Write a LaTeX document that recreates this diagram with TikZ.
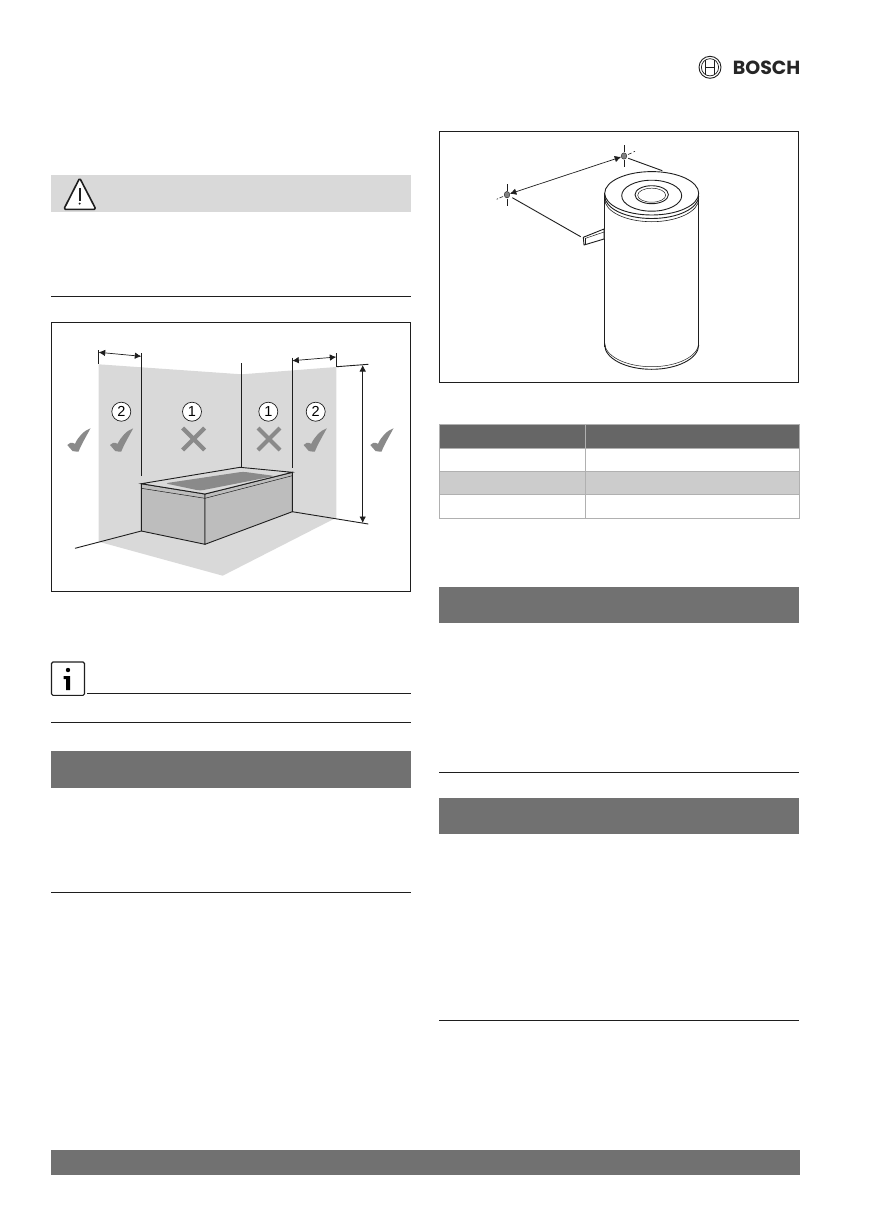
\documentclass[tikz,border=0pt]{standalone}
\usepackage{fontspec}
\setmainfont{Liberation Sans}
\newfontfamily\logofont{Poppins}
\usetikzlibrary{arrows.meta,shapes.geometric}
\definecolor{bandgray}{HTML}{717171}
\definecolor{headgray}{HTML}{666666}
\definecolor{rowgray}{HTML}{CCCCCC}
\definecolor{edgegray}{HTML}{B0B0B0}
\definecolor{wallgray}{HTML}{D9D9D9}
\definecolor{bathgray}{HTML}{BDBDBD}
\definecolor{markgray}{HTML}{8A8A8A}
\definecolor{inkgray}{HTML}{1E1E1E}
\tikzset{
    frame/.style={draw=inkgray, line width=1pt},
    rule/.style={draw=inkgray, line width=1pt},
    band/.style={fill=bandgray, draw=none},
    thinline/.style={draw=inkgray, line width=.9pt},
    dimline/.style={draw=inkgray, line width=.7pt, {Latex[length=6.5pt,width=6.5pt]}-{Latex[length=6.5pt,width=6.5pt]}},
    cellbox/.style={draw=edgegray, line width=1pt},
    numcirc/.style={circle, draw=inkgray, fill=white, line width=.7pt, inner sep=0pt,
        minimum size=19pt, font=\fontsize{14.5}{14.5}\selectfont},
    fixpoint/.style={ellipse, fill=gray, draw=inkgray, line width=.4pt, inner sep=0pt},
    centerline/.style={draw=inkgray, line width=.6pt},
    tickmark/.pic={
        \fill [markgray] (-11.7,5) .. controls (-10,2.5) and (-7.5,2) .. (-4,3.8)
            .. controls (-1,-3) and (5,-9.5) .. (11.5,-11.7)
            .. controls (8,-5) and (2.5,4) .. (-0.5,11.7)
            .. controls (-3,11.5) and (-5,11.5) .. (-6.5,11) -- cycle;
    },
    crossmark/.pic={
        \draw [markgray, line width=4.2pt] (-11,-11) -- (11,11) (11,-11) -- (-11,11);
    }
}
\begin{document}
\begin{tikzpicture}[x=1pt, y=-1pt]
  \useasboundingbox (0,0) rectangle (873,1224);

  % logo
  \node (logo) [inner sep=0pt, anchor=east, font=\fontsize{19}{19}\selectfont\logofont\bfseries, text=black!85] at (800.5,67.3) {BOSCH};
  \draw [inkgray, line width=.9pt] (710,67.3) circle (11);
  \draw [inkgray, line width=.7pt] (710,67.3) circle (8.6);
  \draw [inkgray, line width=.9pt] (705.5,59.5) -- (705.5,75) (714.5,59.5) -- (714.5,75) (705.5,67.3) -- (714.5,67.3);

  % left column
  \fill [wallgray] (51,175) rectangle (410.7,211.7);
  \draw [inkgray, line width=1.6pt, fill=white, line join=round, rounded corners=1.5pt]
    (79.7,178) -- (95.9,209.3) -- (63.8,209.3) -- cycle;
  \draw [inkgray, line width=1.6pt] (79.7,188) -- (79.7,200.5);
  \fill [inkgray] (79.7,203.6) circle (1.1);
  \draw [rule] (51,296) -- (410.7,296);

  \draw [frame] (51.3,322.3) rectangle (410.7,591.3);
  \fill [wallgray] (98.7,364.3) -- (241.7,374.3) -- (336.3,367) -- (336.3,517.7)
    -- (222.7,575.7) -- (98.7,541.7) -- cycle;
  \coordinate (wl) at (98.7,352.3);
  \coordinate (wa) at (141.3,356.3);
  \coordinate (wb) at (292.3,360.7);
  \coordinate (wr) at (336.3,357);
  \coordinate (ht) at (362.7,365);
  \coordinate (hb) at (362.7,523);

  \draw [thinline] (141.3,353.3) -- (141.3,476);
  \draw [thinline] (241.7,363.3) -- (241.7,468);
  \draw [thinline] (292.3,357.7) -- (292.3,468);
  \draw [thinline] (98.7,350) -- (98.7,363.5);
  \draw [thinline] (336.3,353.3) -- (336.3,366.7);
  \draw [thinline] (75,548.3) -- (141.3,531);
  \draw [thinline] (292.3,511.7) -- (368.3,524);
  \draw [thinline] (336.7,366.7) -- (368.3,364.3);
  \draw [dimline] (wl) -- (wa);
  \draw [dimline] (wb) -- (wr);
  \draw [dimline] (ht) -- (hb);

  \draw [thinline, fill=bathgray] (141.3,483.7) -- (205,494) -- (205,544.3) -- (141.3,531) -- cycle;
  \draw [thinline, fill=bathgray] (205,494) -- (292.3,472.3) -- (292.3,511.7) -- (205,544.3) -- cycle;
  \draw [thinline, fill=wallgray] (141.3,483.7) -- (240,467.3) -- (292.3,472.3) -- (205,494) -- cycle;
  \draw [inkgray, line width=.5pt] (141.3,488.3) -- (205,498.3) -- (292.3,475.7);
  \fill [markgray, rounded corners=3pt] (165,483.3) -- (243,471.7) -- (275,476) -- (200,490.7) -- cycle;

  \node (n2a) [numcirc] at (121.3,411.7) {2};
  \node (n1a) [numcirc] at (192,411.7) {1};
  \node (n1b) [numcirc] at (268.3,411.7) {1};
  \node (n2b) [numcirc] at (315.7,411.7) {2};
  \foreach \px in {79,121.7,315.3,382}
    \pic at (\px,440) {tickmark};
  \foreach \px in {193.7,269}
    \pic at (\px,439) {crossmark};

  \draw [rule] (87.3,693.3) -- (410.7,693.3);
  \draw [inkgray, line width=1.1pt, fill=white, rounded corners=1.5pt] (51.5,662) rectangle (84.5,695.3);
  \fill [black] (68,670) circle (2.2);
  \fill [black] (63.5,676) -- (70,676) -- (70,690) -- (66,690) -- (66,679) -- (63.5,679) -- cycle;
  \draw [rule] (51,722.3) -- (410.7,722.3);
  \fill [band] (51,751) rectangle (410.7,788);
  \draw [rule] (51,892.3) -- (410.7,892.3);

  % right column
  \draw [frame] (439.3,131.3) rectangle (798.3,382.3);
  \draw [thinline] (604.7,193.3) -- (604.7,346.7);
  \draw [thinline] (698.7,193.3) -- (698.7,346.7);
  \draw [thinline] (604.7,345) arc [start angle=180, end angle=0, x radius=47, y radius=24.3];
  \draw [inkgray, line width=.5pt] (604.7,343) arc [start angle=180, end angle=0, x radius=47, y radius=23.7];
  \draw [thinline] (604.7,196) arc [start angle=180, end angle=0, x radius=47, y radius=22.5];
  \draw [inkgray, line width=.6pt] (604.7,199) arc [start angle=180, end angle=0, x radius=47, y radius=22.7];
  \draw [thinline] (651.7,193.3) ellipse [x radius=47, y radius=21.7];
  \draw [thinline] (651.7,195.7) ellipse [x radius=30, y radius=15.5];
  \draw [thinline] (651.7,194.7) ellipse [x radius=16.7, y radius=9];
  \draw [inkgray, line width=.5pt] (651.7,195.2) ellipse [x radius=14, y radius=7];

  \draw [thinline, fill=white, line join=round] (583.3,237.3) -- (604,229) -- (604,239) -- (584,245) -- cycle;
  \draw [inkgray, line width=.5pt] (585,238.5) -- (604,232);
  \draw [inkgray, line width=1pt] (585,238) -- (585,244.5);

  \node (pa) [fixpoint, minimum width=5.5pt, minimum height=6.5pt] at (624,156) {};
  \node (pb) [fixpoint, minimum width=5.5pt, minimum height=6.5pt] at (507,194.7) {};
  \draw [dimline] (pb) -- (pa);
  \draw [thinline] (628.3,158.3) -- (662.3,170.7);
  \draw [thinline] (512.3,197.7) -- (580.7,236.7);
  \draw [centerline] (624,145) -- (624,152) (624,160) -- (624,167);
  \draw [centerline] (507,184) -- (507,191) (507,198.5) -- (507,205.5);
  \draw [centerline] (628,154.5) -- (631.5,153) (633.5,152) -- (635,151.3);
  \draw [centerline] (503,196.5) -- (499.5,198) (498,198.7) -- (496.7,199.3);

  \fill [headgray] (439.3,424.3) rectangle (799.3,448.3);
  \fill [rowgray] (439.3,471.3) rectangle (799.3,494.3);
  \draw [cellbox] (439.3,424.3) rectangle (799.3,518.3);
  \draw [cellbox] (585.3,424.3) -- (585.3,518.3);
  \foreach \py in {448.3,471.3,494.3}
    \draw [cellbox] (439.3,\py) -- (799.3,\py);

  \fill [band] (439.3,587) rectangle (799,622.7);
  \draw [rule] (439.3,772) -- (799.3,772);
  \fill [band] (439.3,798) rectangle (799,834);
  \draw [rule] (439.3,1020.5) -- (799.3,1020.5);

  \fill [band] (51,1150) rectangle (800,1175);
\end{tikzpicture}
\end{document}
